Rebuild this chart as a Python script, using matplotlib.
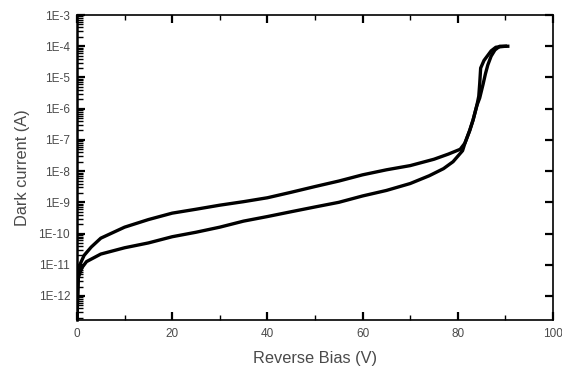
import matplotlib
matplotlib.use("Agg")
import matplotlib.pyplot as plt
from matplotlib.ticker import FixedLocator, FuncFormatter
import numpy as np

# forward sweep (lower branch)
v_up = [0, 0.3, 1, 2, 5, 10, 15, 20, 25, 30, 35, 40, 45, 50, 55, 60, 65, 70,
        74, 77, 79, 81, 81.5, 82.5, 83.2, 84.0, 84.6, 85.3, 85.8, 86.3, 87.0,
        87.8, 88.8, 90.5]
i_up = [2e-13, 4.0e-12, 7.9e-12, 1.26e-11, 2.2e-11, 3.5e-11, 5.0e-11, 7.9e-11,
        1.1e-10, 1.6e-10, 2.5e-10, 3.5e-10, 5.0e-10, 7.1e-10, 1.0e-9, 1.6e-9,
        2.4e-9, 4.0e-9, 7.1e-9, 1.2e-8, 2.0e-8, 4.5e-8, 7.9e-8, 2.0e-7, 4.3e-7,
        1.26e-6, 2.2e-6, 6.0e-6, 1.3e-5, 2.5e-5, 4.8e-5, 7.6e-5, 1.0e-4, 1.0e-4]

# reverse sweep (upper branch)
v_down = [0, 0.2, 0.6, 1.5, 3, 5, 10, 15, 20, 25, 30, 35, 40, 45, 50, 55, 60,
          65, 70, 75, 78, 80.5, 81.5, 82.5, 83.2, 84.0, 84.4, 84.6, 84.8, 85.5,
          87, 88, 90]
i_down = [2e-13, 3.2e-12, 1.0e-11, 2.0e-11, 3.7e-11, 7.1e-11, 1.6e-10, 2.8e-10,
          4.5e-10, 6.0e-10, 8.1e-10, 1.05e-9, 1.4e-9, 2.1e-9, 3.2e-9, 4.8e-9,
          7.6e-9, 1.1e-8, 1.5e-8, 2.4e-8, 3.5e-8, 5.0e-8, 7.9e-8, 2.0e-7, 4.3e-7,
          1.26e-6, 2.5e-6, 6.3e-6, 2.0e-5, 3.5e-5, 7.1e-5, 9.3e-5, 1.0e-4]

x_ticks = [0, 20, 40, 60, 80, 100]
y_decades = [-12, -11, -10, -9, -8, -7, -6, -5, -4, -3]

plt.rcParams['font.family'] = ['Liberation Sans', 'DejaVu Sans']
txt = '#4a4a4a'

fig = plt.figure(figsize=(5.62, 3.71), dpi=100)
ax = fig.add_axes([0.137, 0.1375, 0.847, 0.822])

ax.plot(v_up, i_up, color='black', lw=2.4, solid_joinstyle='round')
ax.plot(v_down, i_down, color='black', lw=2.4, solid_joinstyle='round')

ax.set_yscale('log')
ax.set_xlim(0, 100)
ax.set_ylim(1.7e-13, 1e-3)

ax.xaxis.set_major_locator(FixedLocator(x_ticks))
ax.xaxis.set_minor_locator(FixedLocator([10, 30, 50, 70, 90]))
ax.yaxis.set_major_locator(FixedLocator([10.0 ** d for d in y_decades]))
minors = [m * 10.0 ** d for d in range(-13, -3) for m in range(2, 10)]
ax.yaxis.set_minor_locator(FixedLocator(minors))
ax.yaxis.set_major_formatter(FuncFormatter(lambda y, p: '1E-%d' % abs(round(np.log10(y)))))
ax.yaxis.set_minor_formatter(FuncFormatter(lambda y, p: ''))

ax.tick_params(which='both', direction='in', colors='black', labelcolor=txt,
               labelsize=8.5)
ax.tick_params(which='major', length=6, width=1.6, top=True, right=True)
ax.tick_params(which='minor', length=4, width=1.0, top=True, right=False)
ax.tick_params(axis='x', which='minor', length=3.5)
ax.tick_params(axis='x', pad=6)
ax.tick_params(axis='y', pad=5)

for s in ax.spines.values():
    s.set_linewidth(1.2)
ax.spines['left'].set_linewidth(1.8)

ax.set_xlabel('Reverse Bias (V)', fontsize=11.8, color=txt, labelpad=8)
ax.set_ylabel('Dark current (A)', fontsize=11.8, color=txt, labelpad=6)

fig.savefig('out.png', dpi=100)
